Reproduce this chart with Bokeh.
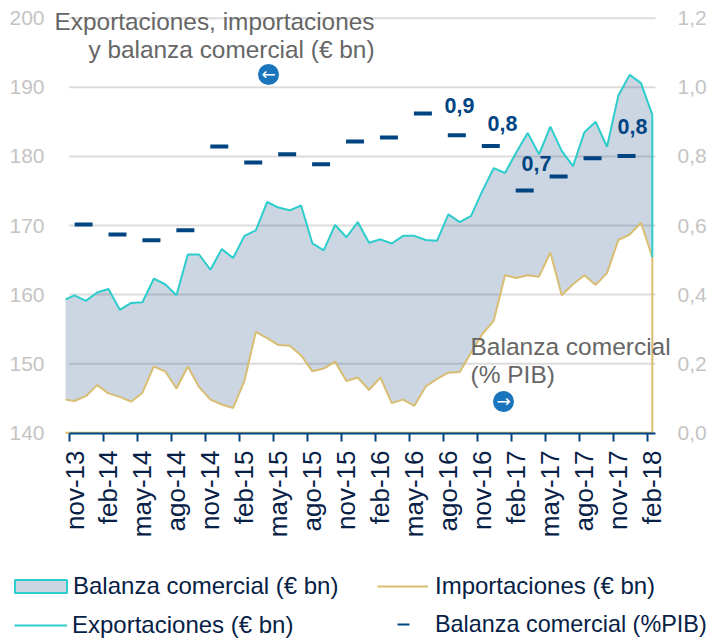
from bokeh.plotting import figure
from bokeh.models import Range1d, LinearAxis, FixedTicker, Legend, LegendItem, Label
from bokeh.embed import file_html
from bokeh.resources import INLINE
import math

tick_labels = ["nov-13","feb-14","may-14","ago-14","nov-14","feb-15","may-15","ago-15","nov-15",
               "feb-16","may-16","ago-16","nov-16","feb-17","may-17","ago-17","nov-17","feb-18"]
left_ticks = [140,150,160,170,180,190,200]
right_ticks = [0,0.2,0.4,0.6,0.8,1.0,1.2]
right_labels = ["0,0","0,2","0,4","0,6","0,8","1,0","1,2"]

exports = [159.3,159.9,159.1,160.3,160.8,157.8,158.8,158.9,162.3,161.5,159.9,165.8,165.8,163.6,166.6,165.3,
           168.5,169.3,173.4,172.6,172.2,172.9,167.4,166.4,170.1,168.3,170.5,167.5,168.0,167.4,168.5,168.5,
           167.9,167.8,171.6,170.5,171.4,175.0,178.3,177.6,180.6,183.4,180.3,184.3,180.8,178.6,183.5,185.0,
           181.4,188.8,191.8,190.6,186.0]
imports = [144.8,144.6,145.3,146.9,145.7,145.2,144.5,145.8,149.6,148.9,146.4,149.6,146.6,144.8,144.1,143.6,
           147.5,154.6,153.7,152.7,152.6,151.2,148.9,149.3,150.3,147.5,148.0,146.2,148.0,144.3,144.8,143.9,
           146.7,147.8,148.7,148.8,151.6,154.3,156.2,162.8,162.4,162.8,162.6,166.1,159.9,161.5,162.8,161.4,
           163.1,167.9,168.7,170.4,165.4]
pct_gdp = [0.603,0.574,0.557,0.586,0.829,0.782,0.806,0.777,0.843,0.855,0.924,0.861,0.83,0.701,0.742,0.795,0.801]

NAVY = "#072146"; BLUE = "#004481"; CYAN = "#2dcccd"; GOLD = "#d8bd72"
GREY = "#666666"; LIGHT = "#c4c4c4"; GRID = "#dcdcdc"; FONT = "Liberation Sans"

# picture pixels -> data
PX = 11.33
PY = 6.91
def dx(px): return (px - 74.0) / PX
def dy(py): return 140 + (432.3 - py) / PY

W, H = 711, 639
x_start = dx(65)
x_end = dx(655)
months = [x_start] + list(range(len(exports) - 1))
x_last = months[-1]
tick_x = [-0.47 + 3 * k for k in range(len(tick_labels))]
label_x = [3 * k for k in range(len(tick_labels))]
dash_x = [0.8 + 2.995 * k for k in range(len(pct_gdp))]

# the frame fills the canvas, because annotations are clipped to it
p = figure(width=W, height=H, output_backend="svg", toolbar_location=None,
           x_range=Range1d(dx(0), dx(W)), y_range=Range1d(dy(H), dy(0)),
           min_border_left=0, min_border_right=0, min_border_top=0, min_border_bottom=0,
           outline_line_color=None, background_fill_color=None, border_fill_color="white")
p.grid.visible = False
p.extra_y_ranges = {"pct": Range1d((dy(H) - 140) * 0.02, (dy(0) - 140) * 0.02)}

# axes
ax = p.xaxis[0]
ax.fixed_location = dy(433)
ax.ticker = FixedTicker(ticks=label_x, minor_ticks=tick_x)
ax.major_label_overrides = {t: l for t, l in zip(label_x, tick_labels)}
ax.bounds = (tick_x[0], x_end)
ax.major_label_orientation = math.pi / 2
ax.major_label_text_font = FONT
ax.major_label_text_font_size = "26px"
ax.major_label_text_color = NAVY
ax.major_label_standoff = 9
ax.axis_line_color = BLUE
ax.axis_line_width = 2
ax.major_tick_line_color = None
ax.major_tick_in = 0
ax.major_tick_out = 0
ax.minor_tick_line_color = BLUE
ax.minor_tick_line_width = 2
ax.minor_tick_in = 0
ax.minor_tick_out = 8

ay = p.yaxis[0]
ay.fixed_location = dx(65)
ay.ticker = FixedTicker(ticks=left_ticks)
ay.bounds = (140, 200)
ay.axis_line_color = None
ay.major_tick_line_color = None
ay.minor_tick_line_color = None
ay.major_label_text_font = FONT
ay.major_label_text_font_size = "21px"
ay.major_label_text_color = LIGHT
ay.major_label_standoff = 15

ar = LinearAxis(y_range_name="pct", ticker=FixedTicker(ticks=right_ticks),
                major_label_overrides={t: l for t, l in zip(right_ticks, right_labels)})
ar.fixed_location = dx(655)
ar.bounds = (0, 1.2)
ar.axis_line_color = None
ar.major_tick_line_color = None
ar.minor_tick_line_color = None
ar.major_label_text_font = FONT
ar.major_label_text_font_size = "21px"
ar.major_label_text_color = LIGHT
ar.major_label_standoff = 16
p.add_layout(ar, "right")

# gridlines (start at first tick as in the source chart)
grid_y = left_ticks[1:]
p.segment(x0=[tick_x[0]] * len(grid_y), x1=[x_end] * len(grid_y), y0=grid_y, y1=grid_y,
          line_color=GRID, line_width=2)

# area between the series
area = p.varea(x=months, y1=imports, y2=exports, fill_color="#1e4e82", fill_alpha=0.23)

# lines; the source chart's outlines close down the right-hand side
l_imp = p.line(x=months + [x_last, x_start], y=imports + [140, 140], line_color=GOLD, line_width=2)
l_exp = p.line(x=months + [x_last], y=exports + [imports[-1]], line_color=CYAN, line_width=2)

# % GDP dashes on secondary axis
p.scatter(x=dash_x, y=pct_gdp, y_range_name="pct", marker="dash", size=18, line_color=BLUE, line_width=4)

# direct labels
def label(text, px, py, size, color, align="left", bold=False, font=FONT):
    p.add_layout(Label(x=dx(px), y=dy(py), text=text, text_font=font, text_font_size=size,
                       text_color=color, text_align=align, text_baseline="middle",
                       text_font_style="bold" if bold else "normal"))

label("Exportaciones, importaciones", 374, 21, "24.4px", GREY, "right")
label("y balanza comercial (€ bn)", 374, 49, "24.4px", GREY, "right")
label("Balanza comercial", 470, 346, "24.5px", GREY)
label("(% PIB)", 470, 374, "24.5px", GREY)
label("0,9", 459, 105, "21.5px", BLUE, "center", True)
label("0,8", 502, 123, "21.5px", BLUE, "center", True)
label("0,7", 536, 163, "21.5px", BLUE, "center", True)
label("0,8", 632, 126, "21.5px", BLUE, "center", True)

# arrow badges
p.scatter(x=[dx(268), dx(503)], y=[dy(74), dy(401)], marker="circle", size=21, fill_color="#1a75bc", line_color=None)
label("←", 268, 73, "17px", "white", "center", font="DejaVu Sans")
label("→", 503, 400, "17px", "white", "center", font="DejaVu Sans")

# legend proxies
nan = float("nan")
proxy_area = p.patch(x=[nan], y=[nan], fill_color="#1e4e82", fill_alpha=0.23, line_color=CYAN, line_width=2)
proxy_dash = p.scatter(x=[nan], y=[nan], marker="dash", size=14, line_color=BLUE, line_width=2)

def add_legend(text, rend, px, py, gw, gh, standoff, size="24px"):
    lg = Legend(items=[LegendItem(label=text, renderers=[rend])],
                location=(px, H - py), glyph_width=gw, glyph_height=gh,
                label_standoff=standoff, label_text_font=FONT, label_text_font_size=size,
                label_text_color=NAVY, padding=0, margin=0, spacing=0,
                border_line_color=None, background_fill_color=None, background_fill_alpha=0)
    p.add_layout(lg, "center")

add_legend("Balanza comercial (€ bn)", proxy_area, 8, 600, 65, 16, 0)
add_legend("Exportaciones (€ bn)", l_exp, 14, 639, 53, 16, 5)
add_legend("Importaciones (€ bn)", l_imp, 377, 600, 51, 16, 7)
add_legend("Balanza comercial (%PIB)", proxy_dash, 378, 639, 50, 30, 7, "23.4px")

open("out.html", "w").write(file_html(p, INLINE))
